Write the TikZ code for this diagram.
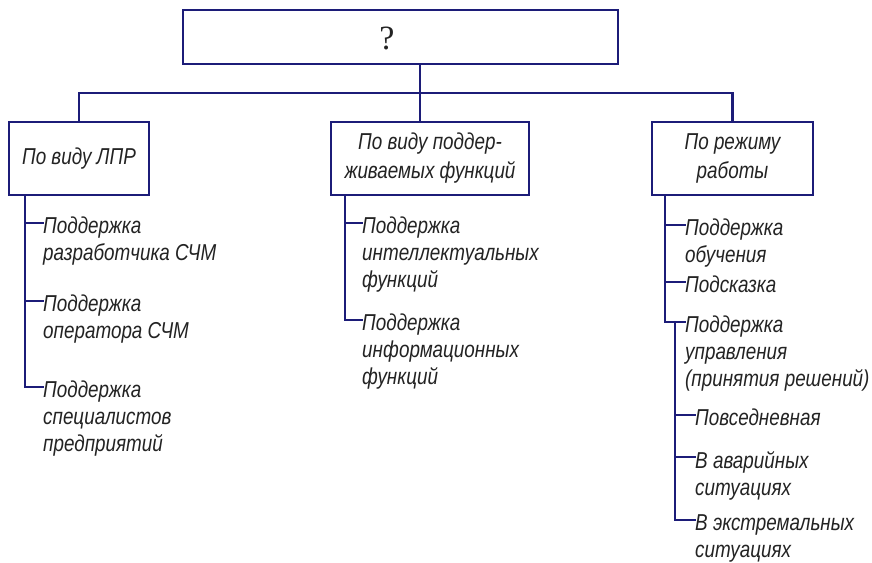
\documentclass[tikz,border=0pt]{standalone}
\usepackage{fontspec}
\newfontfamily\gost[FakeStretch=0.82]{Liberation Sans}
\newfontfamily\qfont{Liberation Serif}
\definecolor{navy}{RGB}{28,28,120}
\definecolor{ink}{RGB}{35,35,35}
\begin{document}
\begin{tikzpicture}[x=1pt,y=-1pt,
  line/.style={draw=navy,line width=2.9pt,line cap=rect},
  box/.style={draw=navy,line width=2.9pt,fill=white,minimum height=73pt,inner sep=0pt,
    align=center,text=ink,font=\gost\itshape\fontsize{23}{29}\selectfont},
  item/.style={anchor=north west,inner sep=0pt,align=left,text=ink,
    font=\gost\itshape\fontsize{23}{27}\selectfont}]
\useasboundingbox[fill=white] (0,0) rectangle (872,562);
% top
\node[draw=navy,line width=2.9pt,minimum width=435pt,minimum height=54pt,inner sep=0pt] (top) at (400.5,37) {};
\node[text=ink,font=\qfont\fontsize{34}{34}\selectfont,inner sep=0pt] (q) at (387,38) {?};
% category boxes
\node[box,minimum width=140pt] (b1) at (79,158.5) {По виду ЛПР};
\node[box,minimum width=198pt] (b2) at (430,158.5) {По виду поддер-\\живаемых функций};
\node[box,minimum width=161pt] (b3) at (732.5,158.5) {По режиму\\работы};
% hub
\coordinate (h) at (420,93);
\draw[line] (top.south -| h) -- (b2.north -| h);
\draw[line] (b1.north) |- (h) -| (b3.north);
% left items
\node[item] (l1) at (43,217) {Поддержка\\разработчика СЧМ};
\node[item] (l2) at (43,295) {Поддержка\\оператора СЧМ};
\node[item] (l3) at (43,381) {Поддержка\\специалистов\\предприятий};
% middle items
\node[item] (m1) at (362,217) {Поддержка\\интеллектуальных\\функций};
\node[item] (m2) at (362,314) {Поддержка\\информационных\\функций};
% right items
\node[item] (r1) at (685,219) {Поддержка\\обучения};
\node[item] (r2) at (685,276) {Подсказка};
\node[item] (r3) at (685,316) {Поддержка\\управления\\(принятия решений)};
\node[item] (r4) at (695,409) {Повседневная};
\node[item] (r5) at (695,451) {В аварийных\\ситуациях};
\node[item] (r6) at (695,514) {В экстремальных\\ситуациях};
% tick points
\foreach \n in {l1,l2,l3,m1,m2,r1,r2,r3,r4,r5,r6}
  \coordinate (t\n) at ([yshift=-6pt]\n.north west);
\coordinate (sl) at (25,0);
\coordinate (sm) at (345,0);
\coordinate (sr) at (665,0);
\coordinate (ss) at (675,0);
% spines
\draw[line] (b1.south -| sl) -- (tl3 -| sl);
\draw[line] (b2.south -| sm) -- (tm2 -| sm);
\draw[line] (b3.south -| sr) -- (tr3 -| sr);
\draw[line] (tr3 -| ss) -- (tr6 -| ss);
% ticks
\foreach \n in {l1,l2,l3} \draw[line] (t\n -| sl) -- (t\n);
\foreach \n in {m1,m2} \draw[line] (t\n -| sm) -- (t\n);
\foreach \n in {r1,r2,r3} \draw[line] (t\n -| sr) -- (t\n);
\foreach \n in {r4,r5,r6} \draw[line] (t\n -| ss) -- (t\n);
\end{tikzpicture}
\end{document}
